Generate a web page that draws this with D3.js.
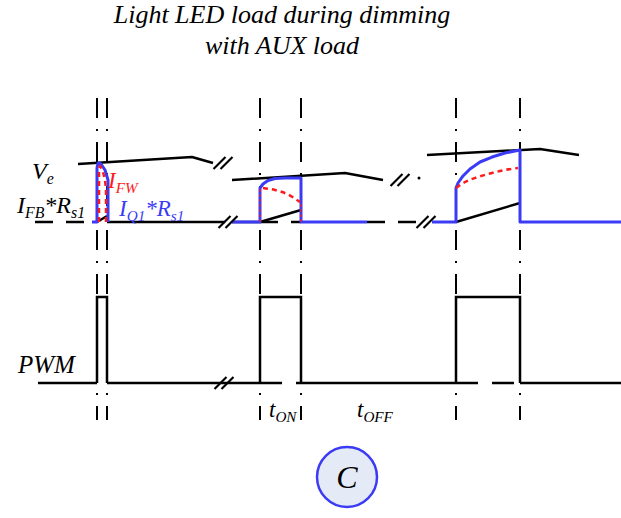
<!DOCTYPE html>
<html>
<head>
<meta charset="utf-8">
<script src="https://cdn.jsdelivr.net/npm/d3@7"></script>
<style>
  html, body { margin: 0; padding: 0; background: #fff; }
  svg { display: block; }
</style>
</head>
<body>
<svg id="chart" width="621" height="518"></svg>
<script>
// ---- Timing (arbitrary time units) ----
const tOn  = [19.4, 52, 91.2];     // switch turn-on instants
const tOff = [21.4, 60.2, 104];    // switch turn-off instants

// ---- Error-amplifier voltage Ve, one segment per dimming burst [t, level] ----
const veSegments = [
  [[15.6, 0.967], [38.4, 1.083], [42.6, 0.983]],
  [[46.4, 0.70], [69.0, 0.817], [76.6, 0.70]],
  [[85.4, 1.117], [108.0, 1.217], [115.8, 1.117]]
];

// ---- Switch current sense I_Q1*Rs1 [t, level] ----
const iq1Segments = [
  [[18.4, 0], [19.4, 0], [19.4, 0.90], [19.6, 0.983], [20.2, 0.967], [21.0, 0.867], [21.6, 0.70], [21.6, 0]],
  [[46.4, 0], [52, 0], [52, 0.567], [52.6, 0.633], [53.6, 0.692], [55, 0.725], [57, 0.733], [60.2, 0.733], [60.2, 0], [73.4, 0]],
  [[86.4, 0], [91.2, 0], [91.2, 0.567], [91.6, 0.65], [92.6, 0.767], [94, 0.883], [96, 1.0], [98.4, 1.083], [101, 1.15], [104, 1.2], [104, 0], [124.2, 0]]
];

// ---- Freewheeling current I_FW [t, level] ----
const ifwSegments = [
  [[19.8, 0], [19.8, 0.867], [20.0, 0.933], [20.6, 0.833], [21.0, 0.70], [21.2, 0.533], [21.2, 0]],
  [[52.6, 0.567], [55, 0.533], [57.4, 0.467], [60, 0.333]],
  [[91.2, 0.567], [93, 0.667], [95.6, 0.75], [98.4, 0.817], [101, 0.867], [103.6, 0.90]]
];
// thin drop lines of I_FW at the burst edges [t, top level]
const ifwDrops = [[52, 0.567], [60.2, 0.333]];

// ---- Feedback current sense I_FB*Rs1 ramps [t, level] ----
const ifbRamps = [
  [[19.4, 0], [21.4, 0.10]],
  [[52, 0], [60.2, 0.20]],
  [[91.2, 0], [104, 0.317]]
];

// ---- Baseline pieces of the sense panel [tStart, tEnd] ----
const senseSolid  = [[21.4, 45.0], [46.4, 52]];
const senseDashed = [[7.0, 18.4], [52, 60.2], [73.4, 83.6]];

// ---- PWM panel: low line pieces and pulses ----
const pwmSolid  = [[7.6, 19.4], [21.4, 52], [60.2, 91.2], [104, 124.2]];
const pwmDashed = [[52, 60.2], [91.2, 104]];

// ---- Time-axis break marks: [t, level, panel] ----
const breaks = [
  [44.6, 0.983, "sense"], [45.6, 0, "sense"],
  [80.0, 0.70, "sense"], [85.2, 0, "sense"],
  [44.8, 0, "pwm"]
];
const dots = [[83.8, 0.733]];

// ---- Scales ----
const x = d3.scaleLinear().domain([0, 124.2]).range([0, 621]);
const ySense = d3.scaleLinear().domain([0, 1]).range([222, 162]);
const yPwm = d3.scaleLinear().domain([0, 1]).range([383, 297]);

const BLACK = "#000", BLUE = "#3b3bf6", RED = "#ff1a1a";
const SERIF = "'Liberation Serif', 'Times New Roman', serif";

const svg = d3.select("#chart");
const lineS = d3.line().x(d => x(d[0])).y(d => ySense(d[1]));
const lineP = d3.line().x(d => x(d[0])).y(d => yPwm(d[1]));

// Edge guides (dash-dot)
const guides = svg.append("g");
tOn.concat(tOff).forEach(t => {
  guides.append("line")
    .attr("x1", x(t)).attr("x2", x(t))
    .attr("y1", 98).attr("y2", 420)
    .attr("stroke", BLACK).attr("stroke-width", 2)
    .attr("stroke-dasharray", "20,11,2,11");
});

// ---- PWM panel ----
const pwm = svg.append("g").attr("fill", "none").attr("stroke", BLACK).attr("stroke-width", 2.5);
pwmSolid.forEach(s => pwm.append("path").attr("d", lineP([[s[0], 0], [s[1], 0]])));
pwmDashed.forEach(s => pwm.append("path").attr("d", lineP([[s[0], 0], [s[1], 0]])).attr("stroke-dasharray", "22,14"));
tOn.forEach((t, i) => {
  pwm.append("path").attr("d", lineP([[t, 0], [t, 1], [tOff[i], 1], [tOff[i], 0]]));
});

// ---- Sense panel ----
const sense = svg.append("g").attr("fill", "none").attr("stroke-linejoin", "round");
senseSolid.forEach(s => sense.append("path").attr("d", lineS([[s[0], 0], [s[1], 0]]))
  .attr("stroke", BLACK).attr("stroke-width", 2.5));
senseDashed.forEach(s => sense.append("path").attr("d", lineS([[s[0], 0], [s[1], 0]]))
  .attr("stroke", BLACK).attr("stroke-width", 2.5).attr("stroke-dasharray", "18,13"));
veSegments.forEach(seg => sense.append("path").attr("d", lineS(seg))
  .attr("stroke", BLACK).attr("stroke-width", 2.5));
ifbRamps.forEach(seg => sense.append("path").attr("d", lineS(seg))
  .attr("stroke", BLACK).attr("stroke-width", 2.5));

const smooth = d3.line().x(d => x(d[0])).y(d => ySense(d[1])).curve(d3.curveMonotoneX);
iq1Segments.forEach(seg => sense.append("path")
  .attr("d", lineS(seg))
  .attr("stroke", BLUE).attr("stroke-width", 3));
ifwDrops.forEach(d => sense.append("path").attr("d", lineS([[d[0], 0], [d[0], d[1]]]))
  .attr("stroke", RED).attr("stroke-width", 1.2).attr("stroke-dasharray", "3,2"));
ifwSegments.forEach((seg, i) => sense.append("path")
  .attr("d", (i === 0 ? lineS : smooth)(seg))
  .attr("stroke", RED).attr("stroke-width", 2.5).attr("stroke-dasharray", "5,4"));

// Break marks
const br = svg.append("g").attr("stroke", BLACK).attr("stroke-width", 2.2);
breaks.forEach(b => {
  const cx = x(b[0]);
  const cy = b[2] === "pwm" ? yPwm(b[1]) : ySense(b[1]);
  [-3.5, 3.5].forEach(dx => br.append("line")
    .attr("x1", cx + dx - 6).attr("y1", cy + 6)
    .attr("x2", cx + dx + 6).attr("y2", cy - 6));
});
dots.forEach(d => svg.append("circle").attr("cx", x(d[0])).attr("cy", ySense(d[1])).attr("r", 1.5).attr("fill", BLACK));

// ---- Labels ----
function label(px, py, parts, size, color) {
  const t = svg.append("text").attr("x", px).attr("y", py)
    .attr("font-family", SERIF).attr("font-style", "italic")
    .attr("font-size", size).attr("fill", color);
  let low = false;
  const shift = size * 0.22;
  parts.forEach(p => {
    const ts = t.append("tspan").text(p[0]);
    if (p[1]) {
      ts.attr("font-size", size * 0.66);
      if (!low) { ts.attr("dy", shift); low = true; }
    } else if (low) { ts.attr("dy", -shift); low = false; }
  });
}

label(32, 179, [["V"], ["e", 1]], 24, BLACK);
label(17, 213, [["I"], ["FB", 1], ["*R"], ["s1", 1]], 24, BLACK);
label(108, 188, [["I"], ["FW", 1]], 23, RED);
label(119, 216, [["I"], ["Q1", 1], ["*R"], ["s1", 1]], 23, BLUE);
label(18, 373, [["PWM"]], 25, BLACK);
label(269, 417, [["t"], ["ON", 1]], 23, BLACK);
label(357, 417, [["t"], ["OFF", 1]], 23, BLACK);

// Title
svg.append("text").attr("x", 282).attr("y", 23).attr("text-anchor", "middle")
  .attr("font-family", SERIF).attr("font-style", "italic").attr("font-size", 26)
  .text("Light LED load during dimming");
svg.append("text").attr("x", 282).attr("y", 54).attr("text-anchor", "middle")
  .attr("font-family", SERIF).attr("font-style", "italic").attr("font-size", 26)
  .text("with AUX load");

// Panel tag
svg.append("circle").attr("cx", 347).attr("cy", 477).attr("r", 30)
  .attr("fill", "#e4ebf7").attr("stroke", "#3b3bf6").attr("stroke-width", 2.5);
svg.append("text").attr("x", 347).attr("y", 488).attr("text-anchor", "middle")
  .attr("font-family", SERIF).attr("font-style", "italic").attr("font-size", 32)
  .text("C");
</script>
</body>
</html>
